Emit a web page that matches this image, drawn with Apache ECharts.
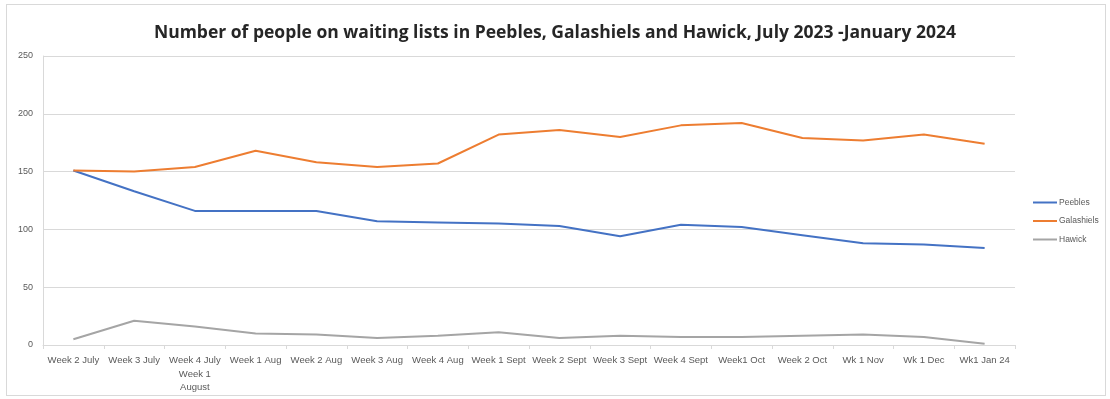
<!DOCTYPE html>
<html>
<head>
<meta charset="utf-8">
<script src="https://cdn.jsdelivr.net/npm/echarts@6/dist/echarts.min.js"></script>
<style>
html,body{margin:0;padding:0;background:#fff;}
#wrap{position:absolute;left:6px;top:4px;width:1100px;height:392px;border:1px solid #d9d9d9;box-sizing:border-box;}
#chart{position:absolute;left:0;top:0;width:1110px;height:399px;}
</style>
</head>
<body>
<div id="wrap"></div>
<div id="chart"></div>
<script>
const categories = ["Week 2 July","Week 3 July","Week 4 July\nWeek 1\nAugust","Week 1 Aug","Week 2 Aug","Week 3 Aug","Week 4 Aug","Week 1 Sept","Week 2 Sept","Week 3 Sept","Week 4 Sept","Week1 Oct","Week 2 Oct","Wk 1 Nov","Wk 1 Dec","Wk1 Jan 24"];
const peebles    = [151,133,116,116,116,107,106,105,103,94,104,102,95,88,87,84];
const galashiels = [151,150,154,168,158,154,157,182,186,180,190,192,179,177,182,174];
const hawick     = [5,21,16,10,9,6,8,11,6,8,7,7,8,9,7,1];
const seriesNames = ["Peebles","Galashiels","Hawick"];
const yTicks = {min:0,max:250,interval:50};
const titleText = "Number of people on waiting lists in Peebles, Galashiels and Hawick, July 2023 -January 2024";

const chart = echarts.init(document.getElementById('chart'), null, {renderer:'canvas'});
const mk = (name, data, color) => ({
  name, type:'line', data, symbol:'none', smooth:false,
  lineStyle:{color, width:2}, itemStyle:{color}
});
chart.setOption({
  animation:false,
  backgroundColor:'transparent',
  title:{text:titleText,left:'center',top:19,
    textStyle:{fontFamily:'Open Sans',fontWeight:'bold',fontSize:17.5,color:'#262626'}},
  legend:{orient:'vertical',left:1028,top:193,itemGap:9.5,itemWidth:24,itemHeight:2,
    icon:'rect',
    textStyle:{fontFamily:'Liberation Sans',fontSize:8.5,color:'#595959',padding:[0,0,0,-3]},
    data:seriesNames},
  grid:{left:43,right:95,top:56,bottom:54},
  xAxis:{type:'category',data:categories,boundaryGap:true,
    axisLine:{lineStyle:{color:'#d9d9d9'}},
    axisTick:{show:true,length:4,lineStyle:{color:'#d9d9d9'}},
    axisLabel:{interval:0,fontFamily:'Liberation Sans',fontSize:9.5,color:'#595959',margin:9,lineHeight:13.5}},
  yAxis:{type:'value',min:yTicks.min,max:yTicks.max,interval:yTicks.interval,
    axisLine:{show:true,lineStyle:{color:'#d9d9d9'}},
    axisTick:{show:false},
    splitLine:{lineStyle:{color:'#d9d9d9'}},
    axisLabel:{fontFamily:'Liberation Sans',fontSize:9,color:'#595959',margin:10}},
  series:[mk(seriesNames[0],peebles,'#4472C4'),mk(seriesNames[1],galashiels,'#ED7D31'),mk(seriesNames[2],hawick,'#A5A5A5')]
});
</script>
</body>
</html>
